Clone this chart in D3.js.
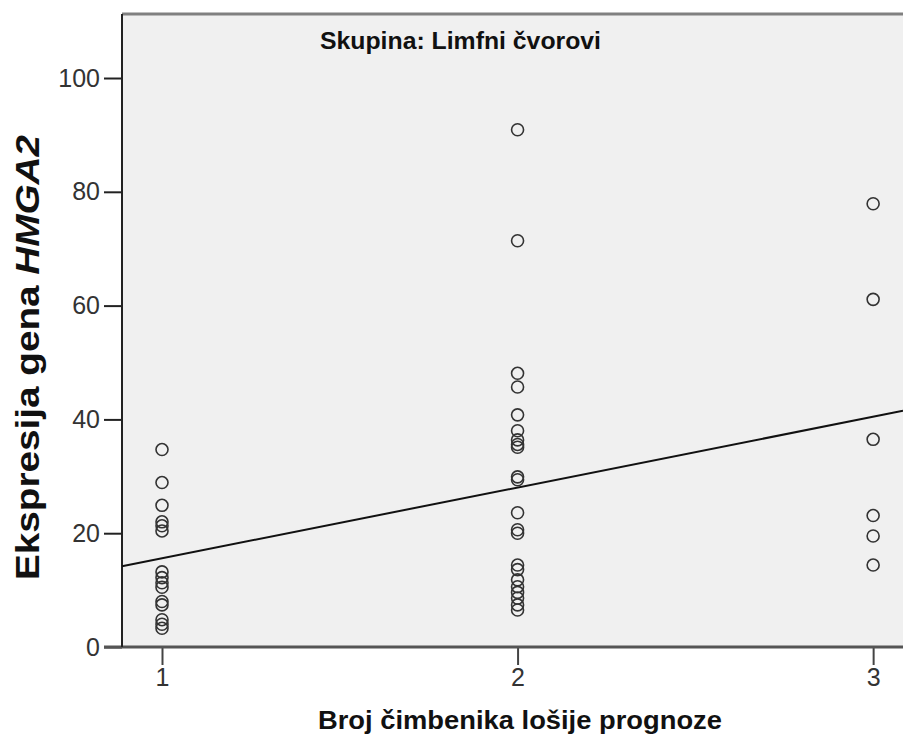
<!DOCTYPE html>
<html>
<head>
<meta charset="utf-8">
<script src="https://cdn.jsdelivr.net/npm/d3@7"></script>
<style>
  body { margin: 0; background: white; }
  svg { display: block; }
</style>
</head>
<body>
<div id="chart"></div>
<script>
// values
var groupX = [1, 2, 3];
var group1 = [34.7, 28.9, 24.9, 22.0, 21.3, 20.4, 13.2, 12.2, 11.3, 10.5, 8.0, 7.4, 4.8, 4.0, 3.3];
var group2 = [90.9, 71.4, 48.1, 45.7, 40.8, 38.0, 36.4, 35.6, 35.1, 29.9, 29.4, 23.6, 20.6, 20.0,
              14.4, 13.6, 11.8, 10.6, 9.6, 8.6, 7.4, 6.5];
var group3 = [77.9, 61.1, 36.5, 23.1, 19.5, 14.4];
var fitLine = [3.17, 12.43]; // intercept, slope
var yTicks = [0, 20, 40, 60, 80, 100];
var xTicks = [1, 2, 3];

var W = 903, H = 740;
var pLeft = 122, pTop = 14, pBottom = 647, pRight = 903;

var svg = d3.select("#chart").append("svg")
    .attr("width", W)
    .attr("height", H)
    .style("background-color", "white");

var x = d3.scaleLinear().domain([0.8875, 3.084]).range([pLeft, pRight]);
var y = d3.scaleLinear().domain([0, 111.25]).range([pBottom, pTop]);

var tickFont = "'Liberation Sans Narrow', 'Liberation Sans', Arial, sans-serif";
var boldFont = "'Liberation Sans', Arial, sans-serif";

// plot background
svg.append("rect")
   .attr("x", pLeft).attr("y", pTop)
   .attr("width", pRight - pLeft).attr("height", pBottom - pTop)
   .attr("fill", "#f0f0f0");

// top border
svg.append("line")
   .attr("x1", pLeft).attr("x2", pRight)
   .attr("y1", pTop).attr("y2", pTop)
   .attr("stroke", "#808080").attr("stroke-width", 3);

// y axis
var yAxis = svg.append("g")
   .attr("transform", "translate(" + pLeft + ",0)")
   .call(d3.axisLeft(y).tickValues(yTicks).tickSize(18).tickPadding(4));
yAxis.select(".domain").remove();
yAxis.selectAll("line").attr("stroke", "#222").attr("stroke-width", 2);
yAxis.selectAll("text")
   .style("font-family", tickFont).style("font-size", "25px").attr("fill", "#333");

// x axis
var xAxis = svg.append("g")
   .attr("transform", "translate(0," + pBottom + ")")
   .call(d3.axisBottom(x).tickValues(xTicks).tickFormat(d3.format("d")).tickSize(18).tickPadding(3));
xAxis.select(".domain").remove();
xAxis.selectAll("line").attr("stroke", "#444").attr("stroke-width", 2);
xAxis.selectAll("text")
   .style("font-family", tickFont).style("font-size", "25px").attr("fill", "#333");

// axis lines
svg.append("line")
   .attr("x1", 104).attr("x2", pRight)
   .attr("y1", pBottom).attr("y2", pBottom)
   .attr("stroke", "#555").attr("stroke-width", 3);
svg.append("line")
   .attr("x1", pLeft).attr("x2", pLeft)
   .attr("y1", pTop).attr("y2", pBottom)
   .attr("stroke", "#222").attr("stroke-width", 2);

// fit line
var x0 = x.domain()[0], x1 = x.domain()[1];
svg.append("line")
   .attr("x1", x(x0)).attr("y1", y(fitLine[0] + fitLine[1] * x0))
   .attr("x2", x(x1)).attr("y2", y(fitLine[0] + fitLine[1] * x1))
   .attr("stroke", "#111").attr("stroke-width", 2);

// points
var groups = [group1, group2, group3];
groups.forEach(function (vals, i) {
  svg.append("g").selectAll("circle")
     .data(vals)
     .enter().append("circle")
     .attr("cx", x(groupX[i]))
     .attr("cy", function (d) { return y(d); })
     .attr("r", 6)
     .attr("fill", "none")
     .attr("stroke", "#333")
     .attr("stroke-width", 1.6);
});

// panel title
svg.append("text")
   .attr("x", 320).attr("y", 49)
   .attr("textLength", 281).attr("lengthAdjust", "spacingAndGlyphs")
   .style("font-family", boldFont).style("font-size", "23px").style("font-weight", "bold")
   .attr("fill", "#111")
   .text("Skupina: Limfni čvorovi");

// x title
svg.append("text")
   .attr("x", 318).attr("y", 729)
   .attr("textLength", 404).attr("lengthAdjust", "spacingAndGlyphs")
   .style("font-family", boldFont).style("font-size", "26px").style("font-weight", "bold")
   .attr("fill", "#111")
   .text("Broj čimbenika lošije prognoze");

// y title
var yt = svg.append("text")
   .attr("transform", "translate(39,580) rotate(-90)")
   .attr("textLength", 445).attr("lengthAdjust", "spacingAndGlyphs")
   .style("font-family", boldFont).style("font-size", "33px").style("font-weight", "bold")
   .attr("fill", "#111");
yt.append("tspan").text("Ekspresija gena ");
yt.append("tspan").style("font-style", "italic").text("HMGA2");
</script>
</body>
</html>
